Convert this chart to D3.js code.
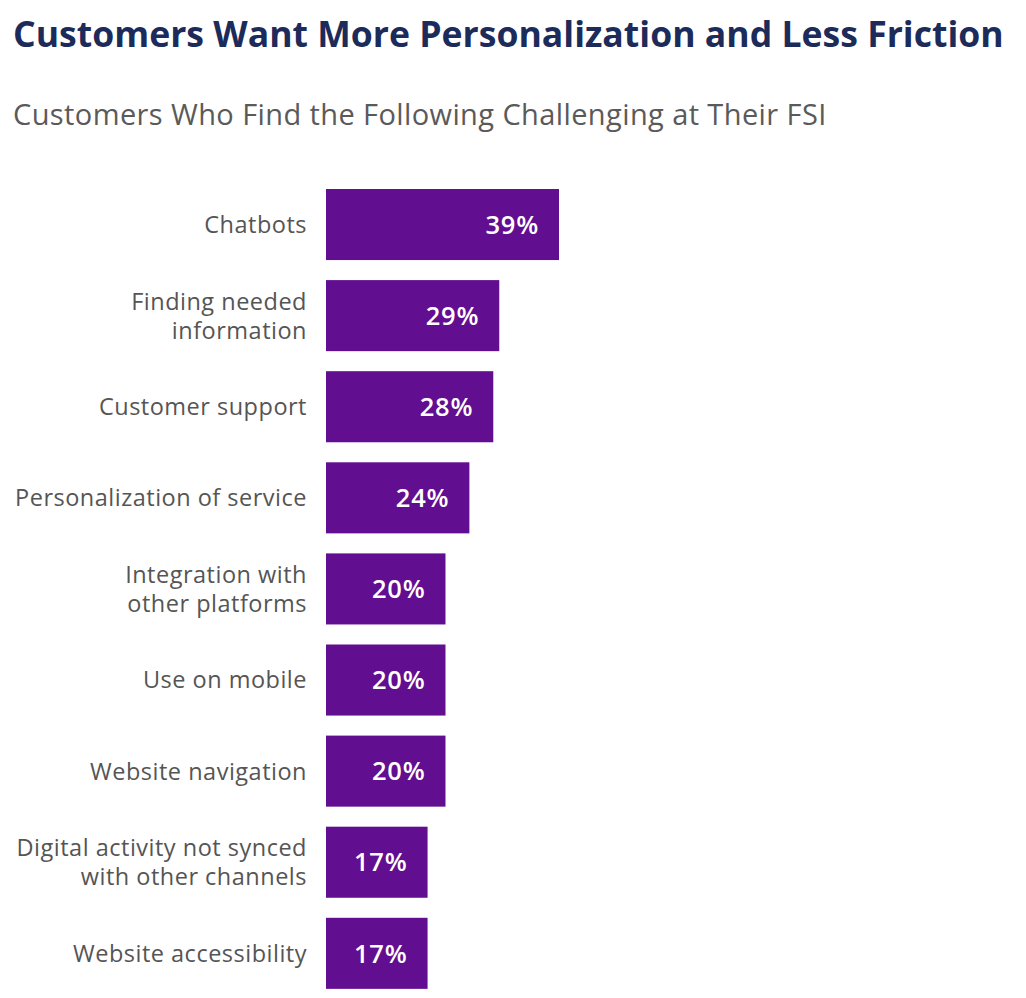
<!DOCTYPE html>
<html><head><meta charset="utf-8">
<script src="https://cdn.jsdelivr.net/npm/d3@7"></script>
<style>body{margin:0;background:#fff}</style>
</head><body><svg id="c" width="1026" height="998"></svg>
<script>
const categories = [
  ["Chatbots"],
  ["Finding needed", "information"],
  ["Customer support"],
  ["Personalization of service"],
  ["Integration with", "other platforms"],
  ["Use on mobile"],
  ["Website navigation"],
  ["Digital activity not synced", "with other channels"],
  ["Website accessibility"]
];
const values = [39, 29, 28, 24, 20, 20, 20, 17, 17];
const title = "Customers Want More Personalization and Less Friction";
const subtitle = "Customers Who Find the Following Challenging at Their FSI";

const svg = d3.select("#c");
const font = "'Open Sans', sans-serif";
svg.append("text").attr("x", 13).attr("y", 47).attr("font-family", font)
  .attr("font-weight", 700).attr("font-size", 35.6).attr("fill", "#1c2b5a").text(title);
svg.append("text").attr("x", 13).attr("y", 125).attr("font-family", font)
  .attr("font-size", 29).attr("letter-spacing", 0.4).attr("fill", "#5a5a5a").text(subtitle);

const idx = values.map((d, i) => i);
const y = d3.scaleBand().domain(idx).range([189, 189 + 91.1 * 8.78]).paddingInner(0.22).paddingOuter(0);
const x = d3.scaleLinear().domain([0, 39]).range([326, 559]);

const g = svg.append("g");
g.selectAll("rect").data(idx).join("rect")
  .attr("x", x(0)).attr("y", i => y(i)).attr("width", i => x(values[i]) - x(0))
  .attr("height", y.bandwidth()).attr("fill", "#620e90");

g.selectAll("text.v").data(idx).join("text").attr("class", "v")
  .attr("x", i => x(values[i]) - 20).attr("y", i => y(i) + y.bandwidth() / 2)
  .attr("dy", "0.36em").attr("text-anchor", "end").attr("font-family", font)
  .attr("font-weight", 600).attr("font-size", 25.5).attr("letter-spacing", 0.8).attr("fill", "#fff")
  .text(i => values[i] + "%");

const lab = g.selectAll("text.l").data(idx).join("text").attr("class", "l")
  .attr("text-anchor", "end").attr("font-family", font).attr("font-size", 23.5)
  .attr("letter-spacing", 0.5).attr("fill", "#555");
lab.each(function(i) {
  const lines = categories[i];
  const t = d3.select(this);
  const cy = y(i) + y.bandwidth() / 2;
  const lh = 29;
  lines.forEach((s, k) => {
    t.append("tspan").attr("x", 307)
      .attr("y", cy + (k - (lines.length - 1) / 2) * lh)
      .attr("dy", "0.36em").text(s);
  });
});
</script></body></html>
